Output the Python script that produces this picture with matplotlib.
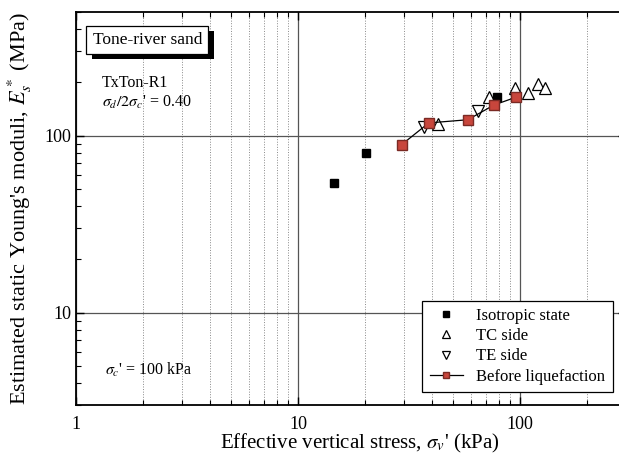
import matplotlib
matplotlib.use("Agg")
import matplotlib.pyplot as plt
import matplotlib.patheffects as pe
from matplotlib.ticker import LogLocator, NullFormatter, FixedLocator, FixedFormatter

plt.rcParams["font.family"] = ["Liberation Serif", "DejaVu Serif"]
plt.rcParams["mathtext.fontset"] = "stix"

# data
iso_x = [14.5, 20.2, 78.7]
iso_y = [54, 80, 165]

tc_x = [42.6, 72.4, 94.5, 108.7, 120.6, 129.7]
tc_y = [117, 165, 185, 174, 195, 185]

te_x = [37.0, 64.6]
te_y = [112, 138]

bl_x = [29.3, 38.8, 58.2, 76.3, 96.0]
bl_y = [89, 118, 123, 149, 165]

fig = plt.figure(figsize=(6.19, 4.62), dpi=100)
ax = fig.add_axes([0.1228, 0.1234, 0.8885, 0.8506])
ax.set_xscale("log")
ax.set_yscale("log")
ax.set_xlim(1, 300)
ax.set_ylim(3, 500)

ax.plot(iso_x, iso_y, "s", color="black", ms=5.5, label="Isotropic state", zorder=4)
ax.plot(tc_x, tc_y, "^", mfc="white", mec="black", ms=8, mew=0.9, label="TC side", zorder=3)
ax.plot(te_x, te_y, "v", mfc="white", mec="black", ms=8, mew=0.9, label="TE side", zorder=3)
ax.plot(bl_x, bl_y, "-s", color="black", lw=0.9, mfc="#c8463c", mec="#7a2a24",
        ms=7, label="Before liquefaction", zorder=5)

# ticks and grid
ax.xaxis.set_major_locator(FixedLocator([1, 10, 100]))
ax.xaxis.set_major_formatter(FixedFormatter(["1", "10", "100"]))
ax.xaxis.set_minor_locator(LogLocator(base=10, subs=range(2, 10), numticks=20))
ax.xaxis.set_minor_formatter(NullFormatter())
ax.yaxis.set_major_locator(FixedLocator([10, 100]))
ax.yaxis.set_major_formatter(FixedFormatter(["10", "100"]))
ax.yaxis.set_minor_locator(LogLocator(base=10, subs=range(2, 10), numticks=20))
ax.yaxis.set_minor_formatter(NullFormatter())
ax.tick_params(which="both", direction="in", top=True, right=True, labelsize=13)
ax.tick_params(which="major", length=6, width=1)
ax.tick_params(which="minor", length=3.5, width=0.8)
ax.tick_params(axis="x", pad=8)
ax.grid(which="major", color="#555555", lw=0.9, ls="-")
ax.grid(which="minor", axis="x", color="#888888", lw=0.7, ls=":")
for s in ax.spines.values():
    s.set_linewidth(1.3)

ax.set_xlabel("Effective vertical stress, $\\sigma_v$' (kPa)", fontsize=15)
ax.set_ylabel("Estimated static Young's moduli, $E_s^*$ (MPa)", fontsize=16)
ax.xaxis.set_label_coords(0.516, -0.069)
ax.yaxis.set_label_coords(-0.076, 0.5)

t = ax.text(0.03, 0.95, "Tone-river sand", transform=ax.transAxes, fontsize=12.5,
            va="top", ha="left",
            bbox=dict(boxstyle="square,pad=0.35", fc="white", ec="black", lw=0.9))
t.get_bbox_patch().set_path_effects([pe.withSimplePatchShadow(offset=(4, -4),
                                                              shadow_rgbFace="black", alpha=1)])
ax.text(0.047, 0.82, "TxTon-R1", transform=ax.transAxes, fontsize=11.5, va="center")
ax.text(0.047, 0.77, "$\\sigma_d/2\\sigma_c$' = 0.40", transform=ax.transAxes, fontsize=11.5, va="center")
ax.text(0.053, 0.09, "$\\sigma_c$' = 100 kPa", transform=ax.transAxes, fontsize=11.5, va="center")

leg = ax.legend(loc="lower right", bbox_to_anchor=(0.976, 0.033), borderaxespad=0,
                fontsize=12, frameon=True, markerscale=0.7,
                fancybox=False, edgecolor="black", framealpha=1, handlelength=2,
                borderpad=0.45, labelspacing=0.25)
leg.get_frame().set_linewidth(0.9)

fig.savefig("out.png", dpi=100)
